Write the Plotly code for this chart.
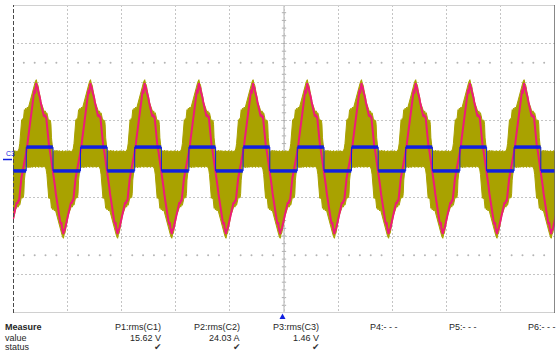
import plotly.graph_objects as go

W, H = 558, 352
ML, MR, MT, MB = 13, 3, 5, 39   # plot area: x 13..555, y 5..313

# ---- data (time in divisions 0..10, amplitude in divisions -4..4) ----
CYCLE_STARTS = [-0.755, 0.245, 1.245, 2.245, 3.245, 4.245, 5.245, 6.245, 7.245, 8.245, 9.245]
PERIOD = 1.0

# C3 (blue) square wave
BLUE_HIGH = 0.31
BLUE_LOW = -0.31
BLUE_HIGH_FRACTION = 0.493

# C2 (pink) one period, phase measured from the blue rising edge
PINK_PHASE = [0.000, 0.015, 0.030, 0.045, 0.060, 0.075, 0.090, 0.105, 0.120, 0.135, 0.150, 0.160,
              0.172, 0.185, 0.195, 0.205, 0.220, 0.235, 0.250, 0.265, 0.280, 0.295, 0.310, 0.325,
              0.340, 0.352, 0.365, 0.378, 0.390, 0.405, 0.420, 0.440, 0.455, 0.470, 0.485, 0.500,
              0.515, 0.530, 0.545, 0.560, 0.575, 0.590, 0.605, 0.620, 0.635, 0.648, 0.660, 0.672,
              0.685, 0.695, 0.705, 0.720, 0.735, 0.750, 0.765, 0.780, 0.795, 0.810, 0.825, 0.840,
              0.852, 0.865, 0.880, 0.895, 0.910, 0.930, 0.950, 0.970, 0.985]
PINK_VALUES = [0.12, 0.30, 0.50, 0.66, 0.90, 1.02, 1.24, 1.36, 1.52, 1.62, 1.80, 1.70,
               1.86, 1.97, 1.84, 1.88, 1.76, 1.70, 1.60, 1.48, 1.40, 1.26, 1.20, 1.10,
               1.16, 1.08, 1.12, 0.92, 0.70, 0.50, 0.34, 0.18, 0.04, -0.06, -0.18, -0.32,
               -0.50, -0.72, -0.90, -1.06, -1.22, -1.32, -1.48, -1.58, -1.70, -1.64, -1.80, -1.88,
               -1.95, -1.82, -1.86, -1.78, -1.68, -1.60, -1.50, -1.38, -1.28, -1.18, -1.12, -1.16,
               -1.06, -1.10, -0.85, -0.66, -0.50, -0.34, -0.20, -0.06, 0.00]

# C1 (olive) switching band: upper and lower envelope over one period
YEL_PHASE = [-0.095, -0.085, -0.075, -0.065, -0.055,
             -0.045, -0.035, -0.025, -0.010, 0.005, 0.020, 0.035, 0.050, 0.065, 0.080, 0.095,
             0.110, 0.125, 0.140, 0.155, 0.170, 0.185, 0.200, 0.215, 0.230, 0.245, 0.260,
             0.275, 0.290, 0.305, 0.320, 0.335, 0.350, 0.365, 0.380, 0.393,
             0.405, 0.415, 0.425, 0.435, 0.445,
             0.455, 0.465, 0.475, 0.490, 0.505, 0.520, 0.535, 0.550, 0.565, 0.580, 0.595,
             0.610, 0.625, 0.640, 0.655, 0.670, 0.685, 0.700, 0.715, 0.730, 0.745, 0.760,
             0.775, 0.790, 0.805, 0.820, 0.835, 0.850, 0.865, 0.880, 0.893]
YEL_UPPER = [0.95, 1.02, 0.96, 1.05, 1.00,
             1.22, 1.28, 1.25, 1.32, 1.28, 1.35, 1.31, 1.40, 1.48, 1.58, 1.66,
             1.75, 1.82, 1.90, 1.95, 2.02, 2.06, 1.96, 1.92, 1.80, 1.72, 1.58,
             1.46, 1.38, 1.30, 1.28, 1.22, 1.25, 1.18, 1.20, 1.12,
             1.00, 0.96, 1.02, 0.97, 1.00,
             0.90, 0.55, 0.30, 0.22, 0.17, 0.22, 0.18, 0.23, 0.17, 0.22, 0.18,
             0.22, 0.17, 0.21, 0.18, 0.22, 0.17, 0.21, 0.18, 0.22, 0.17, 0.21,
             0.18, 0.22, 0.17, 0.21, 0.18, 0.22, 0.26, 0.40, 0.75]
YEL_LOWER = [-1.00, -0.96, -1.02, -0.97, -1.00,
             -0.90, -0.55, -0.30, -0.22, -0.17, -0.22, -0.18, -0.23, -0.17, -0.22, -0.18,
             -0.22, -0.17, -0.21, -0.18, -0.22, -0.17, -0.21, -0.18, -0.22, -0.17, -0.21,
             -0.18, -0.22, -0.17, -0.21, -0.18, -0.22, -0.26, -0.40, -0.75,
             -0.96, -1.02, -0.97, -1.03, -1.00,
             -1.22, -1.28, -1.25, -1.32, -1.28, -1.35, -1.31, -1.40, -1.48, -1.58, -1.66,
             -1.75, -1.82, -1.90, -1.95, -2.02, -2.06, -1.96, -1.92, -1.80, -1.72, -1.58,
             -1.46, -1.38, -1.30, -1.28, -1.22, -1.25, -1.18, -1.20, -1.12]

MARKER_LEVELS = [2.5, -2.5]

MEAS_HEADERS = ["P1:rms(C1)", "P2:rms(C2)", "P3:rms(C3)", "P4:- - -", "P5:- - -", "P6:- - -"]
MEAS_VALUES = ["15.62 V", "24.03 A", "1.46 V", "", "", ""]
MEAS_STATUS = ["✔", "✔", "✔", "", "", ""]

YELLOW = "#a9a200"
PINK = "#ee1a7a"
BLUE = "#1020e0"

# ---- build traces ----
def tile(phases, values):
    xs, ys = [], []
    for c in CYCLE_STARTS:
        for p, v in zip(phases, values):
            xs.append(c + p * PERIOD)
            ys.append(v)
    return xs, ys

yx, yu = tile(YEL_PHASE, YEL_UPPER)
_, yl = tile(YEL_PHASE, YEL_LOWER)
pxs, pys = tile(PINK_PHASE, PINK_VALUES)

bx, by = [], []
tx, ty = [], []
for c in CYCLE_STARTS:
    f = c + BLUE_HIGH_FRACTION * PERIOD
    bx += [c, c, f, f]
    by += [BLUE_LOW, BLUE_HIGH, BLUE_HIGH, BLUE_LOW]
    tx += [c + 0.004, f - 0.004, None, f + 0.004, c + PERIOD - 0.004, None]
    ty += [BLUE_HIGH, BLUE_HIGH, None, BLUE_LOW, BLUE_LOW, None]

dx, dy = [], []
for lvl in MARKER_LEVELS:
    for k in range(10):
        for j in range(1, 5):
            dx.append(k + j * 0.2)
            dy.append(lvl)

fig = go.Figure()
fig.add_trace(go.Scatter(x=dx, y=dy, mode="markers",
                         marker=dict(size=2, color="#b4b4b4"), hoverinfo="skip"))
fig.add_trace(go.Scatter(x=yx, y=yl, mode="lines",
                         line=dict(color=YELLOW, width=1), hoverinfo="skip"))
fig.add_trace(go.Scatter(x=yx, y=yu, mode="lines", fill="tonexty", fillcolor=YELLOW,
                         line=dict(color=YELLOW, width=1), hoverinfo="skip"))
fig.add_trace(go.Scatter(x=pxs, y=pys, mode="lines",
                         line=dict(color=PINK, width=2), hoverinfo="skip"))
fig.add_trace(go.Scatter(x=bx, y=by, mode="lines",
                         line=dict(color=BLUE, width=1), hoverinfo="skip"))
fig.add_trace(go.Scatter(x=tx, y=ty, mode="lines",
                         line=dict(color=BLUE, width=3.5), hoverinfo="skip"))

shapes = [
    dict(type="line", xref="x", yref="y", x0=0, x1=10, y0=4, y1=4,
         line=dict(color="#d0d0d0", width=2), layer="above"),
    dict(type="line", xref="x", yref="y", x0=0, x1=10, y0=-4, y1=-4,
         line=dict(color="#d0d0d0", width=2), layer="above"),
    dict(type="line", xref="x", yref="y", x0=0, x1=0, y0=-4, y1=4,
         line=dict(color="#4a4a4a", width=2, dash="4px,2px"), layer="above"),
    dict(type="line", xref="x", yref="y", x0=10, x1=10, y0=-4, y1=4,
         line=dict(color="#606060", width=1.5), layer="above"),
    dict(type="line", xref="x", yref="y", x0=5, x1=5, y0=-4, y1=4,
         line=dict(color="#b0b0b0", width=1), layer="below"),
]
for i in range(1, 40):
    yv = -4 + i * 0.2
    shapes.append(dict(type="line", xref="x", yref="y", x0=4.96, x1=5.04, y0=yv, y1=yv,
                       line=dict(color="#b0b0b0", width=1), layer="below"))

PW = W - ML - MR
PH = H - MT - MB

def px2paper(x, y):
    # paper coordinates span the plot area (inside the margins)
    return (x - ML) / PW, 1 - (y - MT) / PH

# trigger triangle at bottom
ax_, ay_ = px2paper(279.5, 319)
bx_, by_ = px2paper(285.5, 319)
cx_, cy_ = px2paper(282.5, 313.5)
shapes.append(dict(type="path", xref="paper", yref="paper",
                   path=f"M {ax_} {ay_} L {bx_} {by_} L {cx_} {cy_} Z",
                   fillcolor=BLUE, line=dict(width=0)))
# channel marker line on the left
m0x, m0y = px2paper(3, 159.5)
m1x, _ = px2paper(12, 159.5)
shapes.append(dict(type="line", xref="paper", yref="paper",
                   x0=m0x, x1=m1x, y0=m0y, y1=m0y,
                   line=dict(color=BLUE, width=1.5)))

FONT = "Liberation Sans, Arial, sans-serif"
ann = []
def text(x, y, s, anchor="right", size=9, color="#262626", bold=False, family=FONT):
    xp, yp = px2paper(x, y)
    ann.append(dict(x=xp, y=yp, xref="paper", yref="paper", text=f"<b>{s}</b>" if bold else s,
                    showarrow=False, xanchor=anchor, yanchor="middle",
                    font=dict(family=family, size=size, color=color)))

text(3, 327, "Measure", anchor="left", bold=True)
text(3, 338, "value", anchor="left")
text(3, 346.5, "status", anchor="left")
col_right = [163, 242, 321, 400, 479, 558]
for r, h, v, s in zip(col_right, MEAS_HEADERS, MEAS_VALUES, MEAS_STATUS):
    text(r, 327, h)
    if v:
        text(r, 338, v)
    if s:
        text(r - 5, 346.5, s, anchor="center", size=9, color="#333333", family="DejaVu Sans")
text(4, 153, "C3", anchor="left", size=7, color=BLUE)

fig.update_layout(
    width=W, height=H, margin=dict(l=ML, r=MR, t=MT, b=MB),
    paper_bgcolor="white", plot_bgcolor="white", showlegend=False,
    xaxis=dict(range=[0, 10], dtick=1, tick0=0, showgrid=True, griddash="2px,2px",
               gridcolor="#c4c4c4", gridwidth=1, zeroline=False, showticklabels=False,
               ticks="", showline=False, fixedrange=True),
    yaxis=dict(range=[-4, 4], dtick=1, tick0=0, showgrid=True, griddash="2px,2px",
               gridcolor="#c4c4c4", gridwidth=1, zeroline=False, showticklabels=False,
               ticks="", showline=False, fixedrange=True),
    shapes=shapes, annotations=ann,
)
fig.write_html("out.html", config={"displayModeBar": False})
